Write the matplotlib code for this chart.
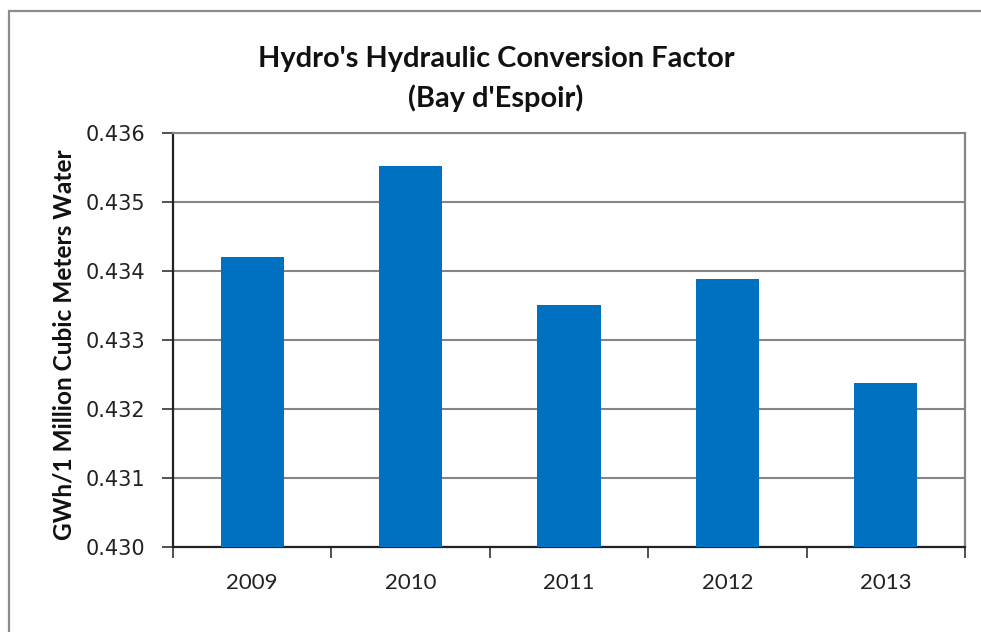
import matplotlib
matplotlib.use("Agg")
import matplotlib.pyplot as plt
from matplotlib.patches import Rectangle

years = ["2009", "2010", "2011", "2012", "2013"]
factor = [0.43421, 0.43552, 0.43350, 0.43389, 0.43238]
y_ticks = [0.430, 0.431, 0.432, 0.433, 0.434, 0.435, 0.436]
title = "Hydro's Hydraulic Conversion Factor\n(Bay d'Espoir)"
y_label = "GWh/1 Million Cubic Meters Water"

bar_color = "#0070C0"
grid_color = "#858585"
narrow = ["Lato", "DejaVu Sans"]

fig = plt.figure(figsize=(9.81, 6.32), dpi=100)
fig.patch.set_facecolor("white")

# chart-area frame
fig.patches.append(Rectangle((9 / 981, -0.1), 1.2, 1 - 11 / 632 + 0.1,
                             transform=fig.transFigure, fill=False,
                             edgecolor="#8c8c8c", linewidth=1.6))

ax = fig.add_axes([173 / 981, 1 - 547 / 632, (965 - 173) / 981, (547 - 133) / 632])

x = list(range(len(years)))
ax.bar(x, factor, width=0.40, color=bar_color, zorder=3)

ax.set_ylim(y_ticks[0], y_ticks[-1])
ax.set_xlim(-0.5, len(years) - 0.5)
ax.set_yticks(y_ticks)
ax.set_yticklabels([f"{v:.3f}" for v in y_ticks], family="DejaVu Sans",
                   fontsize=15, color="#222222")
ax.yaxis.grid(True, color=grid_color, linewidth=1.5, zorder=0)

# category boundary ticks, labels centred on bars
ax.set_xticks([i - 0.5 for i in range(len(years) + 1)])
ax.set_xticklabels([""] * (len(years) + 1))
ax.set_xticks(x, minor=True)
ax.set_xticklabels(years, minor=True, family=narrow, fontsize=16, color="#222222")
ax.tick_params(axis="x", which="major", length=8, width=1.2, color="#333333")
ax.tick_params(axis="x", which="minor", length=0, pad=19)
ax.tick_params(axis="y", length=8, width=1.2, color="#333333", pad=12)

for side in ("left", "bottom"):
    ax.spines[side].set_color("#222222")
    ax.spines[side].set_linewidth(1.6)
ax.spines["right"].set_color(grid_color)
ax.spines["right"].set_linewidth(1.6)
ax.spines["top"].set_color(grid_color)
ax.spines["top"].set_linewidth(1.5)

fig.text(64 / 981, 1 - 345 / 632, y_label, rotation=90, ha="center", va="center",
         family=narrow, fontweight="bold", fontsize=17.6, color="#111111")

fig.text(496 / 981, 1 - 79 / 632, title, ha="center", va="center",
         family=narrow, fontweight="bold", fontsize=20.9, color="#111111",
         linespacing=1.55)

fig.savefig("out.png", dpi=100, facecolor="white")
